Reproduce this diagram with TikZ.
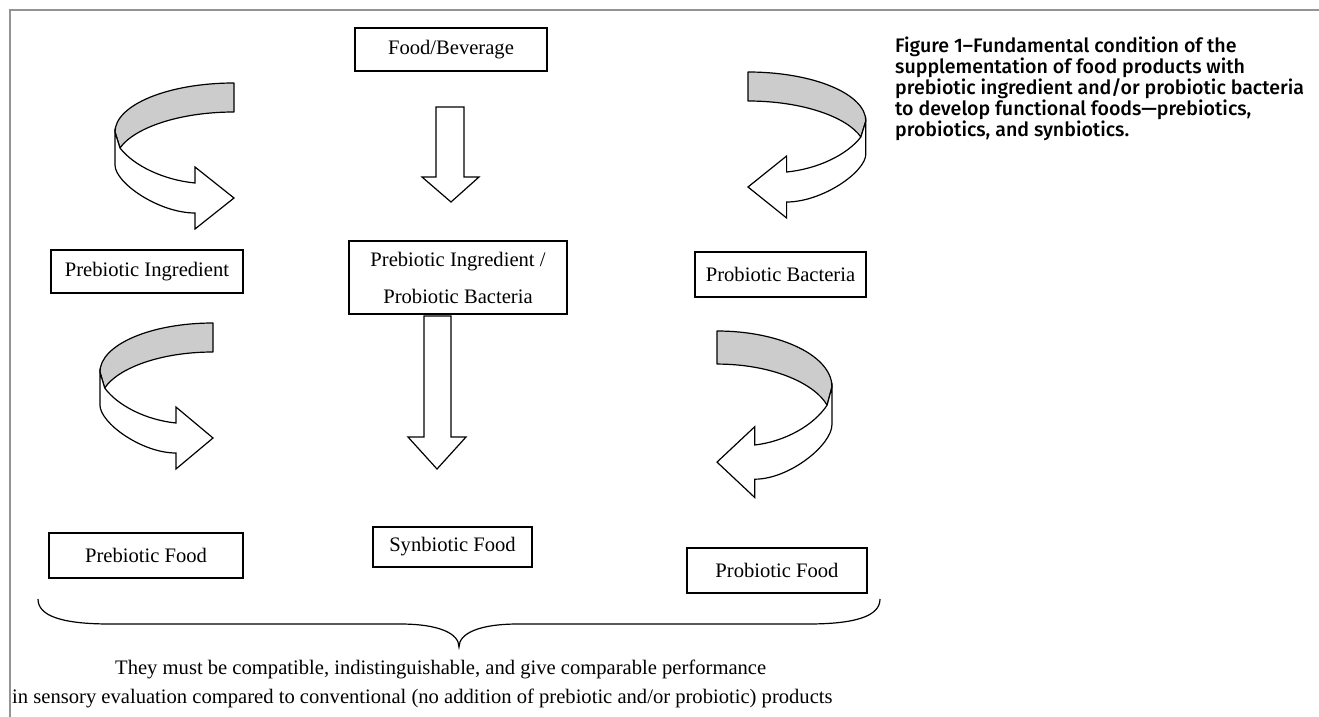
\documentclass[tikz,border=0pt]{standalone}
\usepackage{fontspec}
\setmainfont{Liberation Serif}
\IfFontExistsTF{Fira Sans Medium}{\newfontfamily\capfont{Fira Sans Medium}}{\newfontfamily\capfont{Fira Sans}}
\tikzset{
  boxnode/.style={draw=black, line width=1.3pt, inner sep=0pt, align=center,
    font=\fontsize{20.6}{37}\selectfont},
  bandback/.style={draw=black, line width=1.2pt, fill=black!20, line join=round},
  bandfront/.style={draw=black, line width=1.2pt, fill=white, line join=miter},
  blockarrow/.style={draw=black, line width=1.2pt, fill=white},
  framegray/.style={draw=black!42, line width=2pt},
  curvarrow/.pic={
    \path[bandback] (0,0) .. controls (-66,0) and (-119,22) .. (-119,49)
      -- (-114,65) .. controls (-100,45) and (-55,29) .. (0,29) -- cycle;
    \path[bandfront] (-119,49) -- (-119,82) .. controls (-119,100) and (-75,130) .. (-39,130)
      -- (-39,146) -- (0,115) -- (-39,84) -- (-39,100)
      .. controls (-70,97) and (-100,83) .. (-114,65) -- cycle;
  }
}
\begin{document}
\begin{tikzpicture}[x=1pt,y=-1pt]
\useasboundingbox (0,0) rectangle (1319,717);
\fill[white] (0,0) rectangle (1319,717);
% frame
\draw[framegray] (10,717) -- (10,10) -- (1319,10);

% boxes
\node[boxnode, minimum width=192pt, minimum height=43pt] (food) at (451,49.5) {Food/Beverage};
\node[boxnode, minimum width=192pt, minimum height=43pt] (preing) at (147,271.5) {Prebiotic Ingredient};
\node[boxnode, minimum width=218pt, minimum height=73pt] (both) at (458,277.5) {Prebiotic Ingredient /\\Probiotic Bacteria};
\node[boxnode, minimum width=171pt, minimum height=45pt] (probac) at (780.5,274.5) {Probiotic Bacteria};
\node[boxnode, minimum width=194pt, minimum height=45pt] (prefood) at (146,555.5) {Prebiotic Food};
\node[boxnode, minimum width=159pt, minimum height=40pt] (synfood) at (452.5,547) {Synbiotic Food};
\node[boxnode, minimum width=180pt, minimum height=45pt] (profood) at (777,570.5) {Probiotic Food};

% straight block arrows
\path[blockarrow] (436,107) -- (464,107) -- (464,177) -- (479,177) -- (451,202) -- (422,177) -- (436,177) -- cycle;
\path[blockarrow] (424,316) -- (451,316) -- (451,437) -- (466,437) -- (437,469) -- (408,437) -- (424,437) -- cycle;

% curved ribbon arrows
\pic at (234,83) {curvarrow};
\pic[xscale=0.95] at (213,323) {curvarrow};
\pic[xscale=-0.99] at (748,72) {curvarrow};
\pic[xscale=-0.966, yscale=1.14] at (717,331) {curvarrow};

% brace
\coordinate (bl) at (38,599);
\coordinate (br) at (880,599);
\coordinate (cusp) at (459,647);
\draw[line width=1.2pt] (bl) .. controls (38,616) and (62,624) .. (110,624) -- (400,624)
  .. controls (438,624) and (459,633) .. (cusp)
  .. controls (459,633) and (480,624) .. (518,624) -- (808,624)
  .. controls (856,624) and (880,616) .. (br);

% bottom text
\node[anchor=west, inner sep=0pt, font=\fontsize{20.6}{24}\selectfont] (t1) at (115,669)
  {They must be compatible, indistinguishable, and give comparable performance};
\node[anchor=west, inner sep=0pt, font=\fontsize{20.6}{24}\selectfont] (t2) at (12,698)
  {in sensory evaluation compared to conventional (no addition of prebiotic and/or probiotic) products};

% caption
\node[anchor=north west, inner sep=0pt, align=left, font=\capfont\fontsize{19.6}{21}\selectfont] (cap) at (895,37)
  {Figure 1–Fundamental condition of the\\
   supplementation of food products with\\
   prebiotic ingredient and/or probiotic bacteria\\
   to develop functional foods—prebiotics,\\
   probiotics, and synbiotics.};
\end{tikzpicture}
\end{document}
